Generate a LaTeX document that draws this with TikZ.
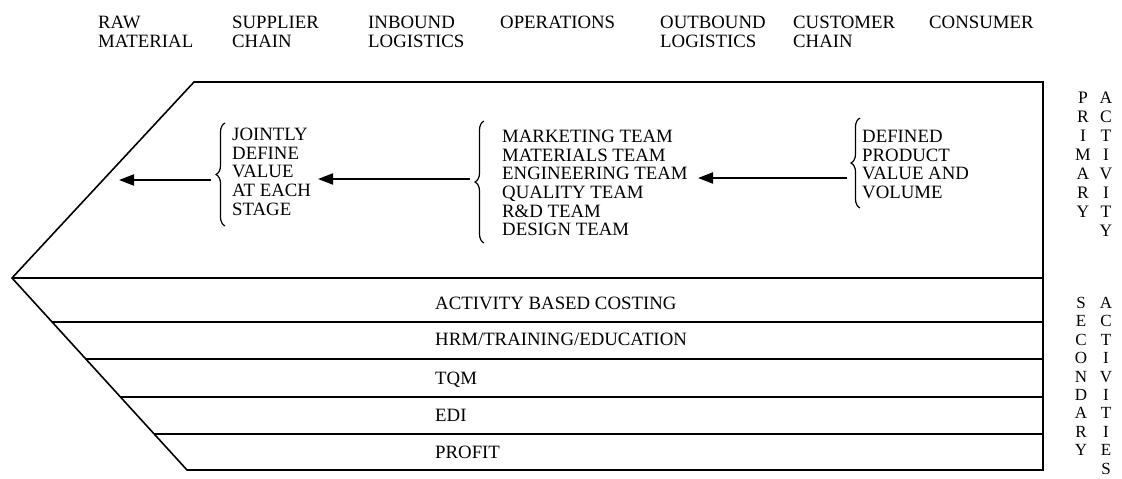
\documentclass[tikz,border=0pt]{standalone}
\usepackage{fontspec}
\setmainfont{Liberation Serif}
\usetikzlibrary{arrows.meta,decorations.pathreplacing}
\begin{document}
\begin{tikzpicture}[x=1pt,y=-1pt,
  lbl/.style={anchor=north west, inner sep=0pt, align=left, font=\fontsize{18.8}{18.6}\selectfont},
  rowlbl/.style={anchor=base west, inner sep=0pt, font=\fontsize{18.8}{18.8}\selectfont},
  vcol/.style={anchor=north, inner sep=0pt, align=center, font=\fontsize{17.5}{18.9}\selectfont},
  vcols/.style={anchor=north, inner sep=0pt, align=center, font=\fontsize{17}{18.4}\selectfont},
  outline/.style={line width=1.6pt, line join=miter},
  flow/.style={line width=2pt, -{Triangle[length=15pt,width=11pt]}},
  bracestyle/.style={line width=1.2pt, decorate, decoration={brace, amplitude=9pt}}]
\useasboundingbox (0,0) rectangle (1122,479);

% top stage labels
\node[lbl] (raw) at (98,16) {RAW\\MATERIAL};
\node[lbl] (sup) at (232,16) {SUPPLIER\\CHAIN};
\node[lbl] (inb) at (368,16) {INBOUND\\LOGISTICS};
\node[lbl] (ops) at (500,16) {OPERATIONS};
\node[lbl] (outb) at (660,16) {OUTBOUND\\LOGISTICS};
\node[lbl] (cust) at (793,16) {CUSTOMER\\CHAIN};
\node[lbl] (cons) at (929,16) {CONSUMER};

% arrow-shaped outline
\coordinate (TL) at (194,82);
\coordinate (TR) at (1043,82);
\coordinate (BR) at (1043,470);
\coordinate (BL) at (187,470);
\coordinate (AP) at (12,278);
\draw[outline] (TL) -- (TR) -- (BR) -- (BL) -- (AP) -- cycle;
\draw[outline] (AP) -- (1043,278);
\foreach \yy in {322,359,397,434}
  \draw[outline] ({12+0.9115*(\yy-278)},\yy) -- (1043,\yy);

% primary activity contents
\node[lbl] (joint) at (232,128) {JOINTLY\\DEFINE\\VALUE\\AT EACH\\STAGE};
\node[lbl] (teams) at (502,130) {MARKETING TEAM\\MATERIALS TEAM\\ENGINEERING TEAM\\QUALITY TEAM\\R\&D TEAM\\DESIGN TEAM};
\node[lbl] (defd) at (862,130) {DEFINED\\PRODUCT\\VALUE AND\\VOLUME};

\draw[bracestyle] (225,226) -- (225,123);
\draw[bracestyle] (484,243) -- (484,121);
\draw[bracestyle] (860,208) -- (860,118);

\coordinate (br1) at (211,180);
\coordinate (e1) at (119,180);
\coordinate (br2) at (470,179);
\coordinate (e2) at (318,179);
\coordinate (br3) at (847,178);
\coordinate (e3) at (698,178);
\draw[flow] (br1) -- (e1);
\draw[flow] (br2) -- (e2);
\draw[flow] (br3) -- (e3);

% secondary activities
\node[rowlbl] (abc) at (435,309) {ACTIVITY BASED COSTING};
\node[rowlbl] (hrm) at (435,345) {HRM/TRAINING/EDUCATION};
\node[rowlbl] (tqm) at (435,384) {TQM};
\node[rowlbl] (edi) at (435,421) {EDI};
\node[rowlbl] (prof) at (435,458) {PROFIT};

% side labels
\node[vcol] (prim) at (1083,92) {P\\R\\I\\M\\A\\R\\Y};
\node[vcol] (pact) at (1106,92) {A\\C\\T\\I\\V\\I\\T\\Y};
\node[vcols] (sec) at (1081,297) {S\\E\\C\\O\\N\\D\\A\\R\\Y};
\node[vcols] (sact) at (1106,297) {A\\C\\T\\I\\V\\I\\T\\I\\E\\S};
\end{tikzpicture}
\end{document}
